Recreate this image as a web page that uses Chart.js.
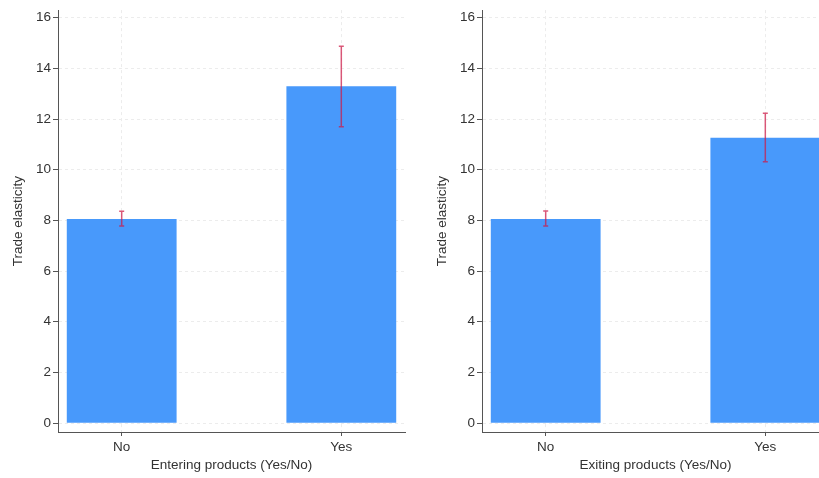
<!DOCTYPE html>
<html>
<head>
<meta charset="utf-8">
<script src="https://cdn.jsdelivr.net/npm/chart.js@4/dist/chart.umd.min.js"></script>
<style>
  html, body { margin:0; padding:0; background:#fff; }
  #wrap { position:relative; width:819px; height:478px; overflow:hidden; background:#fff; }
  .panel { position:absolute; top:0; width:410px; height:478px; }
</style>
</head>
<body>
<div id="wrap">
  <div class="panel" style="left:0px"><canvas id="c1" width="410" height="478"></canvas></div>
  <div class="panel" style="left:424px"><canvas id="c2" width="410" height="478"></canvas></div>
</div>
<script>
const categories = ['No', 'Yes'];
const yTicks = [0, 2, 4, 6, 8, 10, 12, 14, 16];
const yAxisTitle = 'Trade elasticity';

const enteringTitle = 'Entering products (Yes/No)';
const enteringMean = [8.06, 13.29];
const enteringLow  = [7.78, 11.70];
const enteringHigh = [8.36, 14.87];

const exitingTitle = 'Exiting products (Yes/No)';
const exitingMean = [8.06, 11.26];
const exitingLow  = [7.78, 10.32];
const exitingHigh = [8.37, 12.23];

const FONT = "'Liberation Sans', Arial, Helvetica, sans-serif";

const errorBarPlugin = {
  id: 'errorBars',
  afterDatasetsDraw(chart, args, opts) {
    const { ctx } = chart;
    const x = chart.scales.x, y = chart.scales.y;
    ctx.save();
    ctx.strokeStyle = opts.color;
    ctx.lineWidth = opts.width;
    opts.low.forEach((lo, i) => {
      const px = x.getPixelForValue(i);
      const y1 = y.getPixelForValue(lo);
      const y2 = y.getPixelForValue(opts.high[i]);
      ctx.beginPath();
      ctx.moveTo(px, y1); ctx.lineTo(px, y2);
      ctx.moveTo(px - opts.cap, y1); ctx.lineTo(px + opts.cap, y1);
      ctx.moveTo(px - opts.cap, y2); ctx.lineTo(px + opts.cap, y2);
      ctx.stroke();
    });
    ctx.restore();
  }
};

function makeChart(id, means, lows, highs, xTitle) {
  return new Chart(document.getElementById(id), {
    type: 'bar',
    data: {
      datasets: [{
        data: means.map((v, i) => ({ x: i, y: v })),
        backgroundColor: '#4899fb',
        borderWidth: 0,
        barPercentage: 0.5,
        categoryPercentage: 1.0
      }]
    },
    plugins: [errorBarPlugin],
    options: {
      responsive: false,
      animation: false,
      layout: { padding: { top: 3, right: 5, left: 0, bottom: 0 } },
      plugins: {
        legend: { display: false },
        tooltip: { enabled: false },
        errorBars: { low: lows, high: highs, color: 'rgba(205,25,70,0.72)', width: 1.5, cap: 2.5 }
      },
      scales: {
        x: {
          type: 'linear',
          offset: false,
          min: -0.29, max: 1.29,
          afterBuildTicks: s => { s.ticks = categories.map((c, i) => ({ value: i })); },
          afterFit: s => { s.height = 46; },
          ticks: {
            callback: v => categories[v],
            color: '#333', font: { family: FONT, size: 13.5 }, padding: 3, maxRotation: 0
          },
          grid: { offset: false, color: '#ececec', lineWidth: 1, tickColor: '#555', tickLength: 4, tickBorderDash: [] },
          border: { color: '#555', width: 1, dash: [3, 3] },
          title: { display: true, text: xTitle, color: '#333', font: { family: FONT, size: 13.5 }, padding: { top: 0, bottom: 5 } }
        },
        y: {
          type: 'linear',
          min: -0.35, max: 16.3,
          afterBuildTicks: s => { s.ticks = yTicks.map(v => ({ value: v })); },
          afterFit: s => { s.width = 58; },
          ticks: { color: '#333', font: { family: FONT, size: 13.5 }, padding: 2 },
          grid: { color: '#ececec', lineWidth: 1, tickColor: '#555', tickLength: 5, tickBorderDash: [] },
          border: { color: '#555', width: 1, dash: [3, 3] },
          title: { display: true, text: yAxisTitle, color: '#333', font: { family: FONT, size: 13.5 }, padding: { top: 10, bottom: 0 } }
        }
      }
    }
  });
}

makeChart('c1', enteringMean, enteringLow, enteringHigh, enteringTitle);
makeChart('c2', exitingMean, exitingLow, exitingHigh, exitingTitle);
</script>
</body>
</html>
